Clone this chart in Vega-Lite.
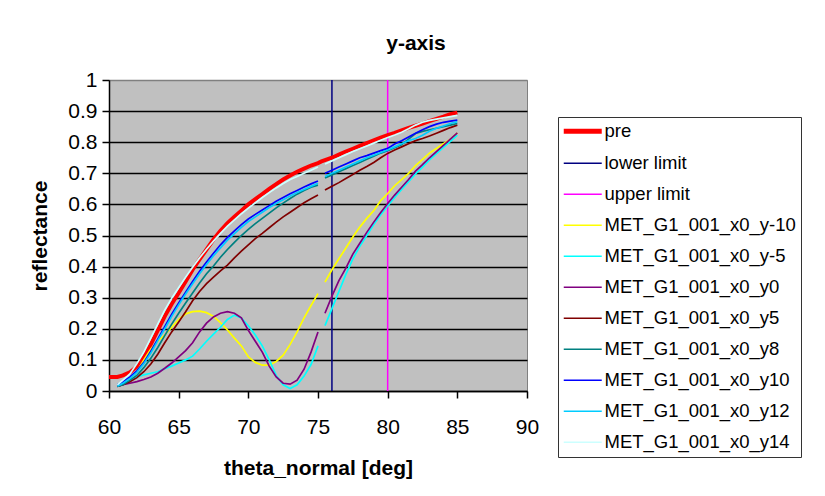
{
  "$schema": "https://vega.github.io/schema/vega-lite/v6.json",
  "width": 418,
  "height": 311,
  "autosize": {"type": "none"},
  "padding": {"left": 109, "top": 80, "right": 298, "bottom": 105},
  "background": "white",
  "title": {"text": "y-axis", "fontSize": 21, "fontWeight": "bold", "font": "Liberation Sans", "color": "black", "anchor": "middle", "dx": 98, "dy": 36, "offset": 30, "baseline": "bottom"},
  "config": {
    "font": "Liberation Sans",
    "view": {"fill": "#C0C0C0", "stroke": "#808080", "strokeWidth": 1},
    "axis": {
      "labelFont": "Liberation Sans", "labelFontSize": 21, "labelColor": "black",
      "titleFont": "Liberation Sans", "titleFontSize": 21, "titleFontWeight": "bold", "titleColor": "black",
      "domainColor": "black", "domainWidth": 1.5, "tickColor": "black", "tickWidth": 1.5, "gridWidth": 1.5
    }
  },
  "datasets": {
    "w": [
      {"x": 60.0, "p": 0.045, "m10": null, "m5": null, "m0": null, "p5": null, "p8": null, "p10": null, "p12": null, "p14": null},
      {"x": 60.6, "p": 0.045, "m10": 0.02, "m5": 0.02, "m0": 0.015, "p5": 0.015, "p8": 0.015, "p10": 0.02, "p12": 0.015, "p14": 0.02},
      {"x": 61, "p": 0.05, "m10": 0.025, "m5": 0.025, "m0": 0.02, "p5": 0.02, "p8": 0.02, "p10": 0.03, "p12": 0.025, "p14": 0.035},
      {"x": 61.5, "p": 0.06, "m10": 0.04, "m5": 0.032, "m0": 0.025, "p5": 0.03, "p8": 0.035, "p10": 0.045, "p12": 0.04, "p14": 0.055},
      {"x": 62, "p": 0.078, "m10": 0.062, "m5": 0.045, "m0": 0.03, "p5": 0.043, "p8": 0.05, "p10": 0.065, "p12": 0.06, "p14": 0.088},
      {"x": 62.5, "p": 0.11, "m10": 0.1, "m5": 0.052, "m0": 0.037, "p5": 0.062, "p8": 0.075, "p10": 0.092, "p12": 0.088, "p14": 0.125},
      {"x": 63, "p": 0.15, "m10": 0.135, "m5": 0.057, "m0": 0.045, "p5": 0.087, "p8": 0.105, "p10": 0.128, "p12": 0.122, "p14": 0.17},
      {"x": 63.5, "p": 0.195, "m10": 0.16, "m5": 0.062, "m0": 0.057, "p5": 0.118, "p8": 0.14, "p10": 0.167, "p12": 0.162, "p14": 0.215},
      {"x": 64, "p": 0.24, "m10": 0.18, "m5": 0.072, "m0": 0.073, "p5": 0.155, "p8": 0.178, "p10": 0.207, "p12": 0.2, "p14": 0.26},
      {"x": 64.5, "p": 0.28, "m10": 0.205, "m5": 0.08, "m0": 0.09, "p5": 0.19, "p8": 0.215, "p10": 0.247, "p12": 0.24, "p14": 0.298},
      {"x": 65, "p": 0.315, "m10": 0.23, "m5": 0.09, "m0": 0.11, "p5": 0.222, "p8": 0.25, "p10": 0.283, "p12": 0.277, "p14": 0.332},
      {"x": 65.5, "p": 0.352, "m10": 0.248, "m5": 0.1, "m0": 0.13, "p5": 0.255, "p8": 0.283, "p10": 0.318, "p12": 0.312, "p14": 0.366},
      {"x": 66, "p": 0.39, "m10": 0.255, "m5": 0.112, "m0": 0.155, "p5": 0.29, "p8": 0.315, "p10": 0.352, "p12": 0.345, "p14": 0.398},
      {"x": 66.5, "p": 0.423, "m10": 0.257, "m5": 0.135, "m0": 0.19, "p5": 0.32, "p8": 0.347, "p10": 0.385, "p12": 0.377, "p14": 0.428},
      {"x": 67, "p": 0.455, "m10": 0.252, "m5": 0.16, "m0": 0.218, "p5": 0.345, "p8": 0.377, "p10": 0.415, "p12": 0.407, "p14": 0.456},
      {"x": 67.5, "p": 0.487, "m10": 0.24, "m5": 0.183, "m0": 0.238, "p5": 0.366, "p8": 0.402, "p10": 0.443, "p12": 0.435, "p14": 0.482},
      {"x": 68, "p": 0.515, "m10": 0.22, "m5": 0.205, "m0": 0.25, "p5": 0.386, "p8": 0.43, "p10": 0.47, "p12": 0.46, "p14": 0.507},
      {"x": 68.5, "p": 0.54, "m10": 0.196, "m5": 0.23, "m0": 0.255, "p5": 0.405, "p8": 0.455, "p10": 0.494, "p12": 0.485, "p14": 0.53},
      {"x": 69, "p": 0.56, "m10": 0.17, "m5": 0.244, "m0": 0.25, "p5": 0.428, "p8": 0.478, "p10": 0.515, "p12": 0.506, "p14": 0.55},
      {"x": 69.5, "p": 0.58, "m10": 0.145, "m5": 0.235, "m0": 0.235, "p5": 0.45, "p8": 0.5, "p10": 0.535, "p12": 0.526, "p14": 0.57},
      {"x": 70, "p": 0.6, "m10": 0.11, "m5": 0.21, "m0": 0.195, "p5": 0.47, "p8": 0.52, "p10": 0.553, "p12": 0.545, "p14": 0.588},
      {"x": 70.5, "p": 0.617, "m10": 0.092, "m5": 0.18, "m0": 0.16, "p5": 0.49, "p8": 0.538, "p10": 0.568, "p12": 0.56, "p14": 0.605},
      {"x": 71, "p": 0.633, "m10": 0.083, "m5": 0.145, "m0": 0.125, "p5": 0.507, "p8": 0.555, "p10": 0.582, "p12": 0.575, "p14": 0.622},
      {"x": 71.5, "p": 0.65, "m10": 0.083, "m5": 0.1, "m0": 0.08, "p5": 0.525, "p8": 0.572, "p10": 0.596, "p12": 0.59, "p14": 0.638},
      {"x": 72, "p": 0.665, "m10": 0.095, "m5": 0.05, "m0": 0.045, "p5": 0.543, "p8": 0.589, "p10": 0.61, "p12": 0.603, "p14": 0.653},
      {"x": 72.5, "p": 0.68, "m10": 0.115, "m5": 0.02, "m0": 0.025, "p5": 0.56, "p8": 0.604, "p10": 0.622, "p12": 0.615, "p14": 0.667},
      {"x": 73, "p": 0.693, "m10": 0.15, "m5": 0.008, "m0": 0.022, "p5": 0.575, "p8": 0.619, "p10": 0.634, "p12": 0.627, "p14": 0.68},
      {"x": 73.5, "p": 0.705, "m10": 0.19, "m5": 0.02, "m0": 0.035, "p5": 0.59, "p8": 0.633, "p10": 0.645, "p12": 0.638, "p14": 0.69},
      {"x": 74, "p": 0.715, "m10": 0.235, "m5": 0.048, "m0": 0.07, "p5": 0.605, "p8": 0.645, "p10": 0.656, "p12": 0.648, "p14": 0.7},
      {"x": 74.5, "p": 0.725, "m10": 0.275, "m5": 0.085, "m0": 0.125, "p5": 0.618, "p8": 0.655, "p10": 0.666, "p12": 0.658, "p14": 0.71},
      {"x": 75, "p": 0.733, "m10": 0.313, "m5": 0.145, "m0": 0.19, "p5": 0.63, "p8": 0.662, "p10": 0.675, "p12": 0.668, "p14": 0.72},
      {"x": 75.25, "p": 0.738, "m10": null, "m5": null, "m0": null, "p5": null, "p8": null, "p10": null, "p12": null, "p14": null},
      {"x": 75.5, "p": 0.742, "m10": 0.35, "m5": 0.21, "m0": 0.25, "p5": 0.646, "p8": 0.685, "p10": 0.7, "p12": 0.69, "p14": 0.73},
      {"x": 76, "p": 0.75, "m10": 0.39, "m5": 0.265, "m0": 0.305, "p5": 0.658, "p8": 0.695, "p10": 0.71, "p12": 0.7, "p14": 0.74},
      {"x": 76.5, "p": 0.76, "m10": 0.425, "m5": 0.32, "m0": 0.355, "p5": 0.67, "p8": 0.705, "p10": 0.72, "p12": 0.71, "p14": 0.75},
      {"x": 77, "p": 0.77, "m10": 0.46, "m5": 0.375, "m0": 0.395, "p5": 0.683, "p8": 0.715, "p10": 0.73, "p12": 0.72, "p14": 0.76},
      {"x": 77.5, "p": 0.779, "m10": 0.495, "m5": 0.425, "m0": 0.44, "p5": 0.696, "p8": 0.725, "p10": 0.74, "p12": 0.73, "p14": 0.77},
      {"x": 78, "p": 0.788, "m10": 0.527, "m5": 0.465, "m0": 0.475, "p5": 0.71, "p8": 0.735, "p10": 0.75, "p12": 0.74, "p14": 0.779},
      {"x": 78.5, "p": 0.797, "m10": 0.555, "m5": 0.5, "m0": 0.51, "p5": 0.722, "p8": 0.745, "p10": 0.757, "p12": 0.75, "p14": 0.788},
      {"x": 79, "p": 0.806, "m10": 0.58, "m5": 0.535, "m0": 0.543, "p5": 0.735, "p8": 0.755, "p10": 0.765, "p12": 0.758, "p14": 0.797},
      {"x": 79.5, "p": 0.815, "m10": 0.612, "m5": 0.567, "m0": 0.574, "p5": 0.75, "p8": 0.765, "p10": 0.773, "p12": 0.767, "p14": 0.806},
      {"x": 80, "p": 0.823, "m10": 0.635, "m5": 0.595, "m0": 0.603, "p5": 0.764, "p8": 0.773, "p10": 0.78, "p12": 0.775, "p14": 0.815},
      {"x": 80.5, "p": 0.83, "m10": 0.66, "m5": 0.622, "m0": 0.63, "p5": 0.775, "p8": 0.782, "p10": 0.794, "p12": 0.785, "p14": 0.823},
      {"x": 81, "p": 0.838, "m10": 0.68, "m5": 0.648, "m0": 0.655, "p5": 0.785, "p8": 0.792, "p10": 0.805, "p12": 0.795, "p14": 0.832},
      {"x": 81.5, "p": 0.846, "m10": 0.7, "m5": 0.673, "m0": 0.68, "p5": 0.795, "p8": 0.81, "p10": 0.817, "p12": 0.805, "p14": 0.843},
      {"x": 82, "p": 0.853, "m10": 0.725, "m5": 0.698, "m0": 0.707, "p5": 0.805, "p8": 0.828, "p10": 0.829, "p12": 0.812, "p14": 0.855},
      {"x": 82.5, "p": 0.86, "m10": 0.745, "m5": 0.72, "m0": 0.728, "p5": 0.812, "p8": 0.835, "p10": 0.84, "p12": 0.822, "p14": 0.864},
      {"x": 83, "p": 0.868, "m10": 0.765, "m5": 0.743, "m0": 0.75, "p5": 0.82, "p8": 0.84, "p10": 0.85, "p12": 0.835, "p14": 0.87},
      {"x": 83.5, "p": 0.875, "m10": 0.78, "m5": 0.763, "m0": 0.77, "p5": 0.829, "p8": 0.845, "p10": 0.858, "p12": 0.845, "p14": 0.874},
      {"x": 84, "p": 0.882, "m10": 0.795, "m5": 0.783, "m0": 0.79, "p5": 0.838, "p8": 0.85, "p10": 0.864, "p12": 0.852, "p14": 0.878},
      {"x": 84.5, "p": 0.89, "m10": 0.81, "m5": 0.803, "m0": 0.81, "p5": 0.847, "p8": 0.855, "p10": 0.868, "p12": 0.86, "p14": 0.882},
      {"x": 85, "p": 0.895, "m10": 0.83, "m5": 0.823, "m0": 0.83, "p5": 0.855, "p8": 0.86, "p10": 0.871, "p12": 0.866, "p14": 0.886}
    ],
    "lim": [
      {"k": "lo", "x": 76, "y": 0},
      {"k": "lo", "x": 76, "y": 1},
      {"k": "up", "x": 80, "y": 0},
      {"k": "up", "x": 80, "y": 1}
    ]
  },
  "encoding": {
    "x": {
      "field": "x", "type": "quantitative",
      "scale": {"domain": [60, 90], "nice": false, "zero": false},
      "axis": {"values": [60, 65, 70, 75, 80, 85, 90], "grid": false, "title": "theta_normal [deg]", "labelPadding": 18, "titlePadding": 20, "tickSize": 7, "labelFlush": false, "labelOverlap": false}
    },
    "y": {
      "field": "y", "type": "quantitative",
      "scale": {"domain": [0, 1], "nice": false},
      "axis": {"values": [0, 0.1, 0.2, 0.3, 0.4, 0.5, 0.6, 0.7, 0.8, 0.9, 1], "format": ".1~f", "grid": true,
               "gridColor": {"condition": {"test": "datum.value === 1", "value": "#808080"}, "value": "#000000"},
               "title": "reflectance", "labelPadding": 5, "titlePadding": 17, "tickSize": 7, "labelOverlap": false}
    },
    "color": {
      "field": "k", "type": "nominal",
      "scale": {
        "domain": ["p", "lo", "up", "m10", "m5", "m0", "p5", "p8", "p10", "p12", "p14"],
        "range": ["#FF0000", "#000080", "#FF00FF", "#FFFF00", "#00FFFF", "#800080", "#800000", "#008080", "#0000FF", "#00CCFF", "#CCFFFF"]
      },
      "legend": {
        "title": null, "orient": "none", "legendX": 449, "legendY": 37, "padding": 5,
        "strokeColor": "#333333", "fillColor": "white",
        "symbolType": "M-1,0H3.47", "symbolSize": 289, "symbolStrokeWidth": 1.5,
        "labelFont": "Liberation Sans", "labelFontSize": 18.5, "labelColor": "black", "labelOffset": 23, "labelLimit": 400,
        "rowPadding": 12,
        "labelExpr": "({'p':'pre','lo':'lower limit','up':'upper limit','m10':'MET_G1_001_x0_y-10','m5':'MET_G1_001_x0_y-5','m0':'MET_G1_001_x0_y0','p5':'MET_G1_001_x0_y5','p8':'MET_G1_001_x0_y8','p10':'MET_G1_001_x0_y10','p12':'MET_G1_001_x0_y12','p14':'MET_G1_001_x0_y14'})[datum.label]",
        "encode": {"symbols": {"update": {"strokeWidth": {"signal": "datum.value === 'p' ? 5 : 1.5"}}}}
      }
    }
  },
  "layer": [
    {
      "data": {"name": "lim"},
      "mark": {"type": "line", "strokeWidth": 1.5}
    },
    {
      "data": {"name": "w"},
      "transform": [{"fold": ["p", "m10", "m5", "m0", "p5", "p8", "p10", "p12", "p14"], "as": ["k", "y"]}],
      "mark": {"type": "line", "invalid": "break-paths-show-domains"},
      "encoding": {
        "strokeWidth": {"condition": {"test": "datum.k === 'p'", "value": 4}, "value": 1.7}
      }
    }
  ]
}
